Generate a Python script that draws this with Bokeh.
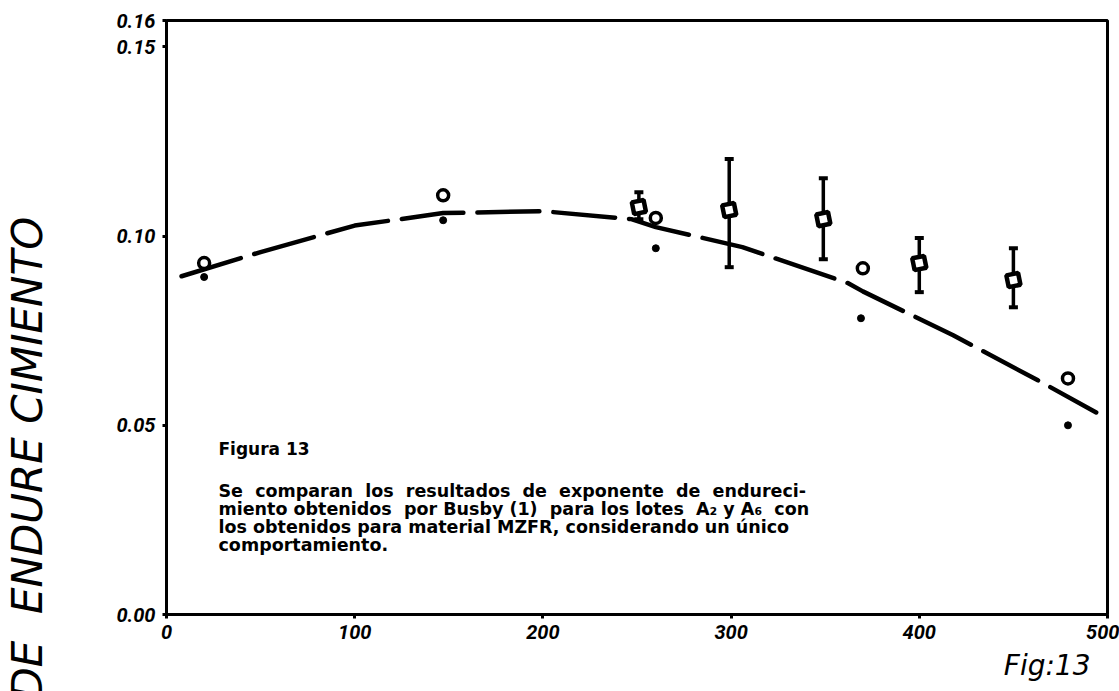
from bokeh.embed import file_html
from bokeh.layouts import row
from bokeh.models import ColumnDataSource, FixedTicker, Label, TeeHead, Title, Whisker
from bokeh.plotting import figure
from bokeh.resources import INLINE

# Busby (1), lot A2 (open circles) and lot A6 (small dots)
busby_a2_x = [20, 147, 260, 370, 479]
busby_a2_n = [0.0929, 0.1108, 0.1048, 0.0915, 0.0624]
busby_a6_x = [20, 147, 260, 369, 479]
busby_a6_n = [0.0892, 0.1042, 0.0968, 0.0783, 0.0500]

# MZFR material: mean hardening exponent with its spread
mzfr_x = [251, 299, 349, 400, 450]
mzfr_n = [0.1077, 0.1069, 0.1045, 0.0929, 0.0884]
mzfr_hi = [0.1116, 0.1204, 0.1153, 0.0995, 0.0968]
mzfr_lo = [0.1045, 0.0918, 0.0939, 0.0852, 0.0812]

# single behaviour trend drawn through both sets
trend_x = [8, 50, 100, 147, 200, 247, 260, 306, 362, 370, 418, 463, 494]
trend_n = [0.0894, 0.0958, 0.1028, 0.1061, 0.1066, 0.1045, 0.1024, 0.0971,
           0.0876, 0.0854, 0.0738, 0.0619, 0.0534]

x_ticks = [0, 100, 200, 300, 400, 500]
y_ticks = [0.0, 0.05, 0.10, 0.15, 0.157]
y_tick_labels = ["0.00", "0.05", "0.10", "0.15", "0.16"]

NB = "\u00a0"
caption_title = "Figura 13"
caption_lines = [
    f"Se{NB} comparan{NB} los{NB} resultados{NB} de{NB} exponente{NB} de{NB} endureci-",
    f"miento obtenidos{NB} por Busby (1){NB} para los lotes{NB} A\u2082 y A\u2086{NB} con",
    "los obtenidos para material MZFR, considerando un único",
    "comportamiento.",
]
y_name = f"DE{NB}{NB}ENDURE CIMIENTO"
fig_tag = "Fig:13"

FONT = "DejaVu Sans"
TICK_FONT = "Roboto"

# narrow strip on the left carrying the vertical quantity name
side = figure(width=60, height=691, x_range=(0, 1), y_range=(0, 1),
              x_axis_type=None, y_axis_type=None, min_border=0,
              output_backend="svg", toolbar_location=None)
side.outline_line_color = None
side.grid.visible = False
side.background_fill_color = "white"
side.border_fill_color = "white"
side.add_layout(Title(text=y_name, align="left", offset=-85, standoff=0,
                      text_font=FONT, text_font_style="italic",
                      text_font_size="42px", text_color="black"), "left")

p = figure(
    width=1059, height=691,
    x_range=(0, 500), y_range=(0, 0.157),
    output_backend="svg", toolbar_location=None,
    min_border_left=106, min_border_right=12,
    min_border_top=20, min_border_bottom=77,
)
p.background_fill_color = "white"
p.border_fill_color = "white"
p.outline_line_color = "black"
p.outline_line_width = 3
p.grid.visible = False

for ax in (p.xaxis, p.yaxis):
    ax.axis_line_width = 3
    ax.major_tick_line_width = 3
    ax.major_tick_in = 0
    ax.major_tick_out = 4
    ax.minor_tick_line_color = None
    ax.major_label_text_font = TICK_FONT
    ax.major_label_text_font_style = "bold italic"
    ax.major_label_text_font_size = "20px"
    ax.major_label_text_color = "black"

p.xaxis.ticker = FixedTicker(ticks=x_ticks)
p.xaxis.major_label_standoff = 6
p.yaxis.ticker = FixedTicker(ticks=y_ticks)
p.yaxis.major_label_overrides = {t: s for t, s in zip(y_ticks, y_tick_labels)}
p.yaxis.major_label_standoff = 7

# trend curve
p.line(trend_x, trend_n, line_color="black", line_width=4.5,
       line_dash="62 14", line_cap="round")

# MZFR error bars and markers
mzfr = ColumnDataSource(dict(x=mzfr_x, n=mzfr_n, hi=mzfr_hi, lo=mzfr_lo))
p.add_layout(Whisker(
    source=mzfr, base="x", upper="hi", lower="lo",
    line_color="black", line_width=3.5,
    upper_head=TeeHead(size=9, line_width=4, line_color="black"),
    lower_head=TeeHead(size=9, line_width=4, line_color="black"),
))
p.scatter("x", "n", source=mzfr, marker="square", size=12, angle=0.2,
          line_color="black", line_width=4.5, fill_color="white")

# Busby lots
p.scatter(busby_a2_x, busby_a2_n, marker="circle", size=11,
          line_color="black", line_width=3.5, fill_color="white")
p.scatter(busby_a6_x, busby_a6_n, marker="circle", size=7,
          line_color="black", fill_color="black")

# caption block inside the frame
p.add_layout(Label(x=52, y=166, x_units="screen", y_units="screen",
                   text=caption_title, text_font=FONT,
                   text_font_style="bold", text_font_size="17px",
                   text_baseline="middle", text_color="black"))
for i, line in enumerate(caption_lines):
    p.add_layout(Label(x=52, y=124 - 18 * i, x_units="screen", y_units="screen",
                       text=line, text_font=FONT,
                       text_font_style="bold", text_font_size="17.5px",
                       text_baseline="middle", text_color="black"))

# figure tag under the x axis, on the right
p.add_layout(Title(text=fig_tag, align="right", offset=17, standoff=10,
                   text_font=FONT, text_font_style="italic",
                   text_font_size="28px", text_color="black"), "below")

open("out.html", "w").write(file_html(row(side, p), INLINE))
